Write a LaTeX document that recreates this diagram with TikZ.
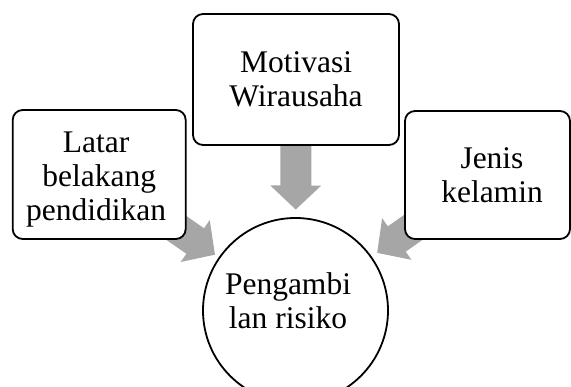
\documentclass[tikz,border=0pt]{standalone}
\usepackage{fontspec}
\setmainfont{Liberation Serif}
\usetikzlibrary{calc,backgrounds}
\definecolor{arrgray}{RGB}{166,166,166}
\newcommand\blockarr[2]{%
  \coordinate (bh) at ($(#2)!24pt!(#1)$);
  \fill[arrgray] ($(#1)!15.5pt!90:(#2)$) -- ($(bh)!15.5pt!90:(#2)$) -- ($(bh)!25.5pt!90:(#2)$) -- (#2)
     -- ($(bh)!25.5pt!-90:(#2)$) -- ($(bh)!15.5pt!-90:(#2)$) -- ($(#1)!15.5pt!-90:(#2)$) -- cycle;
}
\begin{document}
\begin{tikzpicture}[x=1pt,y=-1pt,
  txtfont/.style={font=\fontsize{31.5}{34}\selectfont},
  box/.style={draw=black, line width=1.8pt, fill=white, rounded corners=10pt,
              align=center, inner sep=0pt, txtfont},
  ring/.style={draw=black, line width=1.8pt, fill=white, circle,
              align=center, inner sep=0pt, txtfont}]
\clip (0,0) rectangle (571,387);
\node[box, minimum width=206pt, minimum height=131pt] (mid) at (296,79.5) {Motivasi\\Wirausaha};
\node[box, minimum width=173pt, minimum height=129pt] (lft) at (99.2,174.5)
  {\rule{0pt}{31.5pt}Latar\hspace*{6pt}\\belakang\hspace*{6pt}\\pendidikan\hspace*{6pt}};
\node[box, minimum width=165pt, minimum height=128pt] (rgt) at (487.5,175)
  {\hspace*{9pt}Jenis\\\hspace*{9pt}kelamin};
\node[ring, minimum size=185pt] (c) at (295.5,310.5)
  {Pengambi\hspace*{15pt}\\lan risiko\hspace*{15pt}\rule[-20pt]{0pt}{1pt}};
\coordinate (tm) at ($(c.center)!101pt!(mid.center)$);
\coordinate (tl) at ($(c.center)!98pt!(lft.center)$);
\coordinate (tr) at ($(c.center)!100pt!(rgt.center)$);
\begin{scope}[on background layer]
  \blockarr{mid.center}{tm}
  \blockarr{lft.center}{tl}
  \blockarr{rgt.center}{tr}
\end{scope}
\end{tikzpicture}
\end{document}
